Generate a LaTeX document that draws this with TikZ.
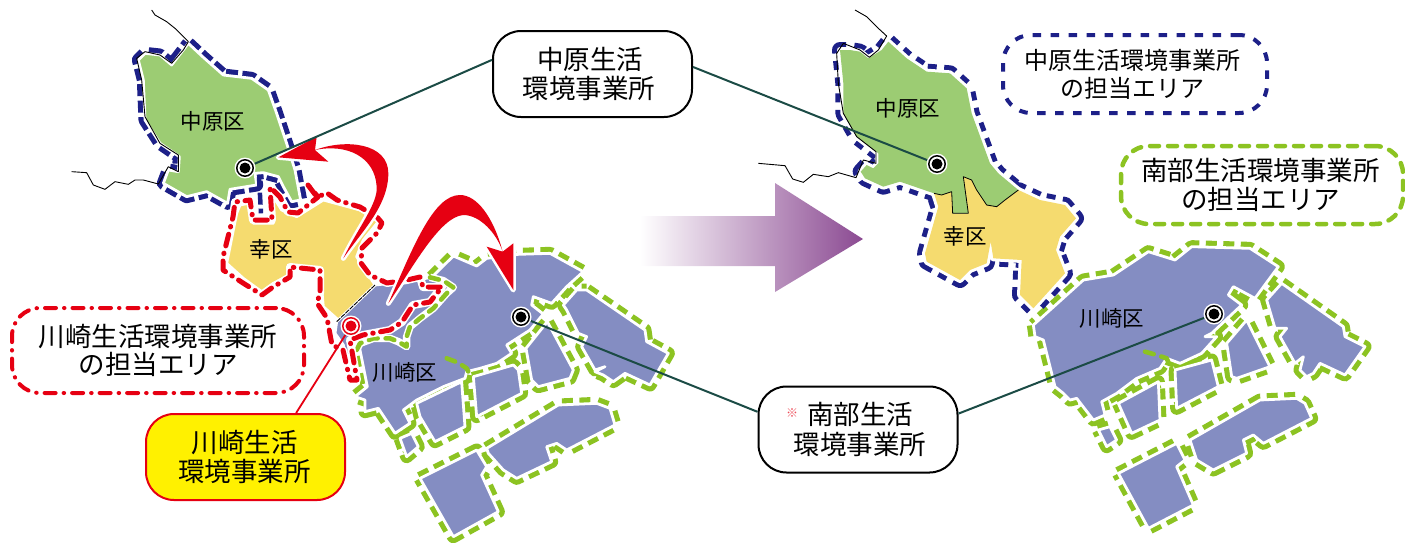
\documentclass[tikz,border=0pt]{standalone}
\usepackage{fontspec}
\setmainfont{Noto Sans CJK JP}
\definecolor{cgreen}{HTML}{9CCC73}
\definecolor{cyellow}{HTML}{F5DB6F}
\definecolor{cpurple}{HTML}{848DC2}
\definecolor{cnavy}{HTML}{1D2088}
\definecolor{cdash}{HTML}{8CC322}
\definecolor{cred}{HTML}{E60012}
\definecolor{cline}{HTML}{1B4B45}
\definecolor{carrow}{HTML}{8B4A92}
\definecolor{cyellowbox}{HTML}{FFF100}
\tikzset{
  zA/.style={x=0.33333pt,y=-0.33333pt,shift={(60pt,0pt)}},
  zB/.style={x=0.33333pt,y=-0.33333pt,shift={(310pt,-190pt)}},
  zC/.style={x=0.33333pt,y=-0.33333pt,shift={(750pt,0pt)}},
  zD/.style={x=0.33333pt,y=-0.33333pt,shift={(1020pt,-230pt)}},
  ringgreen/.style={draw=cdash,line width=13pt,dash pattern=on 11pt off 6.5pt,line join=round},
  ringnavyA/.style={draw=cnavy,line width=13pt,dash pattern=on 12pt off 4.5pt,line join=round},
  ringnavyB/.style={draw=cnavy,line width=16pt,dash pattern=on 9pt off 7.5pt,line join=round},
  halo/.style={draw=white,line width=2.8pt,line join=round},
  haloB/.style={draw=white,line width=6pt,line join=round},
  reddash/.style={draw=cred,line width=5pt,line cap=round,line join=round,dash pattern=on 12pt off 7.5pt on 0.5pt off 7.5pt},
  greendash/.style={draw=cdash,line width=4.6pt,line cap=round,line join=round,dash pattern=on 9pt off 8pt},
  thinblack/.style={draw=black,line width=0.9pt,line join=round},
  redarrow/.style={fill=cred,draw=white,line width=5pt,line join=round},
  officebox/.style={draw=black,line width=2pt,fill=white,rounded corners=28pt,minimum width=199pt,minimum height=86pt,
     inner sep=0pt,align=center,font=\fontsize{26.5}{29.5}\selectfont},
  areabox/.style={rounded corners=28pt,inner sep=0pt,align=center,font=\fontsize{26.5}{28.5}\selectfont},
  wardlabel/.style={inner sep=0pt,font=\fontsize{21.5}{24}\selectfont},
  stationdot/.style={circle,fill=white,inner sep=0pt,minimum size=21pt,
     path picture={\fill[#1] (path picture bounding box.center) circle (5.5pt);
                   \draw[#1,line width=1.5pt] (path picture bounding box.center) circle (8.2pt);}},
  connector/.style={draw=cline,line width=2pt},
}
% ---- left map
\def\lNaka{(385,130)--(430,172)--(490,225)--(575,235)--(625,270)--(650,340)--(680,430)--(705,510)--(722,600)--(695,605)--(670,560)--(655,530)--(610,518)--(585,520)--(590,555)--(510,568)--(503,610)--(440,575)--(380,590)--(310,550)--(325,510)--(355,515)--(358,470)--(300,430)--(255,360)--(250,240)--(235,180)--(255,160)--(300,165)--(335,195)--cycle}
\def\lSaiw{(540,615)--(565,610)--(580,670)--(640,670)--(640,590)--(665,630)--(710,650)--(790,600)--(900,630)--(955,665)--(910,720)--(890,770)--(945,855)--(835,960)--(790,920)--(780,810)--(695,795)--(690,825)--(640,850)--(605,875)--(550,835)--(500,790)--(530,640)--cycle}
\def\lMainOpen{(365,262)--(430,198)--(500,228)--(530,205)--(625,193)--(720,190)--(820,245)--(770,290)--(725,340)--(670,320)--(665,345)--(700,372)--(660,420)--(590,465)--(605,490)--(560,520)--(510,535)--(470,545)--(465,565)--(400,590)--(320,630)--(280,660)--(300,700)--(255,730)--(205,655)--(165,665)--(165,630)--(135,620)--(172,590)--(150,480)}
\def\lMainFill{\lMainOpen--(140,450)--(125,445)--(132,560)--(122,560)--(100,465)--(75,430)--(80,395)--(195,285)--(290,275)--cycle}
\def\lSq{(270,745)--(305,730)--(325,770)--(290,800)--cycle}
\def\lA{(320,640)--(455,575)--(465,710)--(375,755)--(330,680)--cycle}
\def\lB{(490,560)--(610,525)--(625,540)--(635,610)--(500,680)--cycle}
\def\lC{(648,475)--(712,395)--(790,540)--(780,565)--(685,590)--(665,570)--cycle}
\def\lD{(830,300)--(1005,420)--(1010,455)--(1075,490)--(1020,585)--(945,550)--(910,575)--(880,555)--(855,545)--(885,530)--(855,540)--(815,470)--(830,440)--(805,430)--(770,360)--(760,345)--(800,300)--cycle}
\def\lE{(530,775)--(745,645)--(860,640)--(900,655)--(915,705)--(770,780)--(740,760)--(710,770)--(725,815)--(620,865)--(580,840)--(535,790)--cycle}
\def\lF{(330,865)--(500,780)--(530,830)--(515,855)--(565,965)--(430,1040)--cycle}
% ---- right map
\def\rNaka{(415,125)--(470,175)--(530,215)--(600,220)--(650,265)--(665,340)--(720,490)--(745,520)--(805,570)--(765,600)--(740,620)--(710,615)--(680,570)--(665,540)--(640,530)--(655,640)--(608,640)--(605,575)--(575,585)--(552,580)--(450,545)--(400,560)--(345,535)--(332,515)--(350,495)--(370,505)--(385,490)--(385,460)--(320,410)--(280,340)--(280,250)--(270,150)--(300,150)--(330,155)--(355,175)--(395,150)--cycle}
\def\rSaiw{(552,580)--(575,585)--(605,575)--(608,640)--(655,640)--(640,530)--(665,540)--(680,570)--(710,615)--(740,620)--(765,600)--(805,570)--(870,600)--(945,615)--(978,655)--(930,710)--(918,750)--(945,820)--(850,925)--(810,885)--(815,780)--(730,775)--(722,725)--(710,790)--(660,810)--(630,840)--(530,785)--(525,760)--(565,620)--cycle}
\def\rMain{(40,285)--(45,320)--(70,330)--(105,470)--(130,490)--(150,510)--(170,505)--(220,570)--(255,555)--(245,515)--(290,490)--(350,445)--(420,415)--(440,385)--(480,400)--(545,370)--(590,320)--(555,320)--(575,310)--(665,225)--(625,195)--(640,170)--(705,205)--(775,110)--(690,55)--(515,50)--(465,90)--(385,65)--(280,135)--(190,150)--cycle}
\def\rSq{(235,600)--(270,590)--(290,630)--(260,650)--cycle}
\def\rA{(295,520)--(415,455)--(420,570)--(335,610)--cycle}
\def\rB{(465,420)--(575,390)--(595,470)--(470,535)--cycle}
\def\rC{(620,340)--(680,270)--(750,410)--(650,445)--(635,440)--cycle}
\def\rD{(785,160)--(970,290)--(975,320)--(1035,350)--(975,435)--(900,400)--(880,430)--(860,440)--(840,420)--(850,380)--(825,400)--(780,320)--(800,295)--(765,295)--(740,210)--cycle}
\def\rE{(510,630)--(720,510)--(830,505)--(855,520)--(875,565)--(730,640)--(700,615)--(670,630)--(680,670)--(580,720)--(530,690)--cycle}
\def\rF{(295,730)--(470,640)--(495,690)--(470,710)--(520,825)--(385,895)--cycle}
\def\redrim{(308,185) -- (317,197) -- (327,193) -- (337,200) -- (360,207) -- (377,217) -- (382,223) -- (377,233) -- (362,248) -- (361,263) -- (370,275) -- (387,283) -- (407,280) -- (420,277) -- (423,287) -- (442,287) -- (430,302) -- (413,305) -- (402,322) -- (390,330) -- (363,335) -- (350,340) -- (357,380) -- (350,380) -- (343,350) -- (332,345) -- (327,318) -- (317,303) -- (320,293) -- (320,270) -- (290,267) -- (290,277) -- (273,287) -- (262,295) -- (243,283) -- (223,270) -- (223,257) -- (233,217) -- (235,202) -- (250,200) -- (253,220) -- (272,220) -- (270,187) -- (280,197) -- (288,212) -- (298,213) -- (318,197) -- cycle}
\def\lInner{(140,480) -- (150,460) -- (190,445) -- (240,445) -- (265,455) -- (290,470) -- (290,440) -- (300,410) -- (330,385) -- (370,355) -- (410,310) -- (430,292) -- (400,272) -- (360,262)}
\def\arrowOne{(655,472) -- (770,410) -- (765,450) .. controls (860,415) and (985,430) .. (985,520) .. controls (985,620) and (900,700) .. (850,775) .. controls (890,690) and (955,610) .. (950,560) .. controls (945,470) and (860,430) .. (765,450) -- (805,485) -- cycle}
\def\arrowTwo{(610,300) -- (610,160) -- (578,185) .. controls (550,80) and (500,15) .. (450,15) .. controls (370,15) and (310,170) .. (235,340) .. controls (310,230) and (390,80) .. (460,75) .. controls (510,75) and (560,130) .. (578,185) -- (530,170) -- cycle}
\begin{document}
\begin{tikzpicture}[x=1pt,y=-1pt]
\useasboundingbox (0,0) rectangle (1405,542);
% gradient arrow
\shade[left color=white,right color=carrow] (640,216) -- (775,216) -- (775,183) -- (863,239) -- (775,292) -- (775,266) -- (640,266) -- cycle;
% ======== LEFT MAP
\begin{scope}[zB]
  \foreach \p in {\lSq,\lA,\lB,\lC,\lD,\lE,\lF} {\path[ringgreen] \p;}
  \path[ringgreen] \lMainOpen;
\end{scope}
\begin{scope}[zA]
  \path[ringnavyA] \lNaka;
\end{scope}
\begin{scope}[zB]
  \foreach \p in {\lMainFill,\lSq,\lA,\lB,\lC,\lD,\lE,\lF} {\path[halo,fill=cpurple] \p;}
  \draw[greendash] (410,505) -- (445,518) -- (470,535) -- (485,565);
\end{scope}
\begin{scope}[zA]
  \path[halo,fill=cyellow] \lSaiw;
  \path[halo,fill=cgreen] \lNaka;
  \draw[cnavy,line width=4.5pt,dash pattern=on 12pt off 4pt] (597,530) -- (603,640);
  \draw[thinblack] (275,30) -- (285,45) -- (320,65) -- (345,85) -- (385,125) -- (370,150) -- (335,190) -- (300,165) -- (255,155) -- (230,175) -- (245,240) -- (255,350) -- (300,430) -- (355,465) -- (355,515) -- (325,500) -- (295,552) -- (250,540) -- (225,540) -- (205,553) -- (165,545) -- (135,568) -- (100,555) -- (80,518) -- (35,515);
\end{scope}
\begin{scope}[zB]
  \draw[thinblack,dash pattern=on 5pt off 1pt] (195,285) -- (80,395);
  \draw[white,line width=7.5pt,line join=round] \lInner;
  \draw[greendash] \lInner;
\end{scope}
% red managed-area boundary
\path[draw=white,line width=8pt,line join=round] \redrim;
\path[reddash] \redrim;
% ======== RIGHT MAP
\begin{scope}[zD]
  \foreach \p in {\rMain,\rSq,\rA,\rB,\rC,\rD,\rE,\rF} {\path[ringgreen] \p;}
\end{scope}
\begin{scope}[zC]
  \path[ringnavyB] \rNaka;
  \path[ringnavyB] \rSaiw;
  \path[haloB] \rNaka;
  \path[haloB] \rSaiw;
  \fill[cyellow] \rSaiw;
  \fill[cgreen] \rNaka;
  \draw[thinblack,line width=0.8pt] (552,580) -- (575,585) -- (605,575) -- (608,640) -- (655,640) -- (640,530) -- (665,540) -- (680,570) -- (710,615) -- (740,620) -- (765,600) -- (805,570);
  \draw[thinblack] (315,30) -- (350,50) -- (385,85) -- (410,108) -- (385,150) -- (358,172) -- (330,150) -- (280,130) -- (260,160) -- (265,250) -- (280,340) -- (320,410) -- (378,455) -- (378,490) -- (340,480) -- (318,533) -- (265,518) -- (235,530) -- (190,523) -- (160,547) -- (128,537) -- (105,497) -- (25,490);
\end{scope}
\begin{scope}[zD]
  \foreach \p in {\rMain,\rSq,\rA,\rB,\rC,\rD,\rE,\rF} {\path[halo,fill=cpurple] \p;}
  \draw[greendash] (375,365) -- (410,375) -- (440,385) -- (455,420);
\end{scope}
% ======== curved red arrows
\begin{scope}[zA]
  \path[redarrow] \arrowOne;
  \fill[cred] \arrowOne;
\end{scope}
\begin{scope}[zB]
  \path[redarrow] \arrowTwo;
  \fill[cred] \arrowTwo;
\end{scope}
% ======== labels on map
\node[wardlabel] (wnl) at (213,121) {中原区};
\node[wardlabel] (wsl) at (271,249) {幸区};
\node[wardlabel] (wkl) at (405,372) {川崎区};
\node[wardlabel] (wnr) at (908,108) {中原区};
\node[wardlabel] (wsr) at (965,236) {幸区};
\node[wardlabel] (wkr) at (1112,318) {川崎区};
% ======== office boxes
\node[officebox] (nk) at (592.5,74) {中原生活\hspace*{5pt}\\環境事業所\hspace*{7pt}};
\node[officebox] (nb) at (858,429.5) {\hspace*{4pt}南部生活\\\hspace*{4pt}環境事業所};
\node[officebox,draw=cred,fill=cyellowbox] (kw) at (245.5,457) {川崎生活\hspace*{2pt}\\環境事業所\hspace*{2pt}};
\node[inner sep=0pt,text=cred!70!white,font=\fontsize{12}{12}\selectfont] (nbmark) at (792,413) {※};
% ======== area boxes
\node[areabox,draw=cred,line width=4pt,line cap=round,dash pattern=on 11pt off 8pt on 0.5pt off 8pt,minimum width=292pt,minimum height=85pt] (ak) at (158,350.5) {川崎生活環境事業所\\の担当エリア};
\node[areabox,draw=cnavy,line width=4pt,dash pattern=on 8.5pt off 9.5pt,minimum width=264pt,minimum height=78pt,font=\fontsize{24}{28}\selectfont] (an) at (1135,74) {中原生活環境事業所\hspace*{5pt}\\の担当エリア\hspace*{5pt}};
\node[areabox,draw=cdash,line width=4.5pt,line cap=round,dash pattern=on 9pt off 9pt,minimum width=282pt,minimum height=78pt] (as) at (1262,185) {南部生活環境事業所\hspace*{3pt}\\の担当エリア\hspace*{3pt}};
% ======== stations and connectors
\node[stationdot=black] (dnl) at (245,168) {};
\node[stationdot=black] (dkl) at (521,317) {};
\node[stationdot=cred] (dwl) at (351,326) {};
\node[stationdot=black] (dnr) at (937,164) {};
\node[stationdot=black] (dkr) at (1214,314) {};
\draw[connector] (nk.172.6) -- (dnl);
\draw[connector] (nk.4) -- (dnr);
\draw[connector] (nb.170.7) -- (dkl);
\draw[connector] (nb.9.4) -- (dkr);
\draw[draw=cred,line width=1.8pt] (kw.41.3) -- (dwl);
\end{tikzpicture}
\end{document}
